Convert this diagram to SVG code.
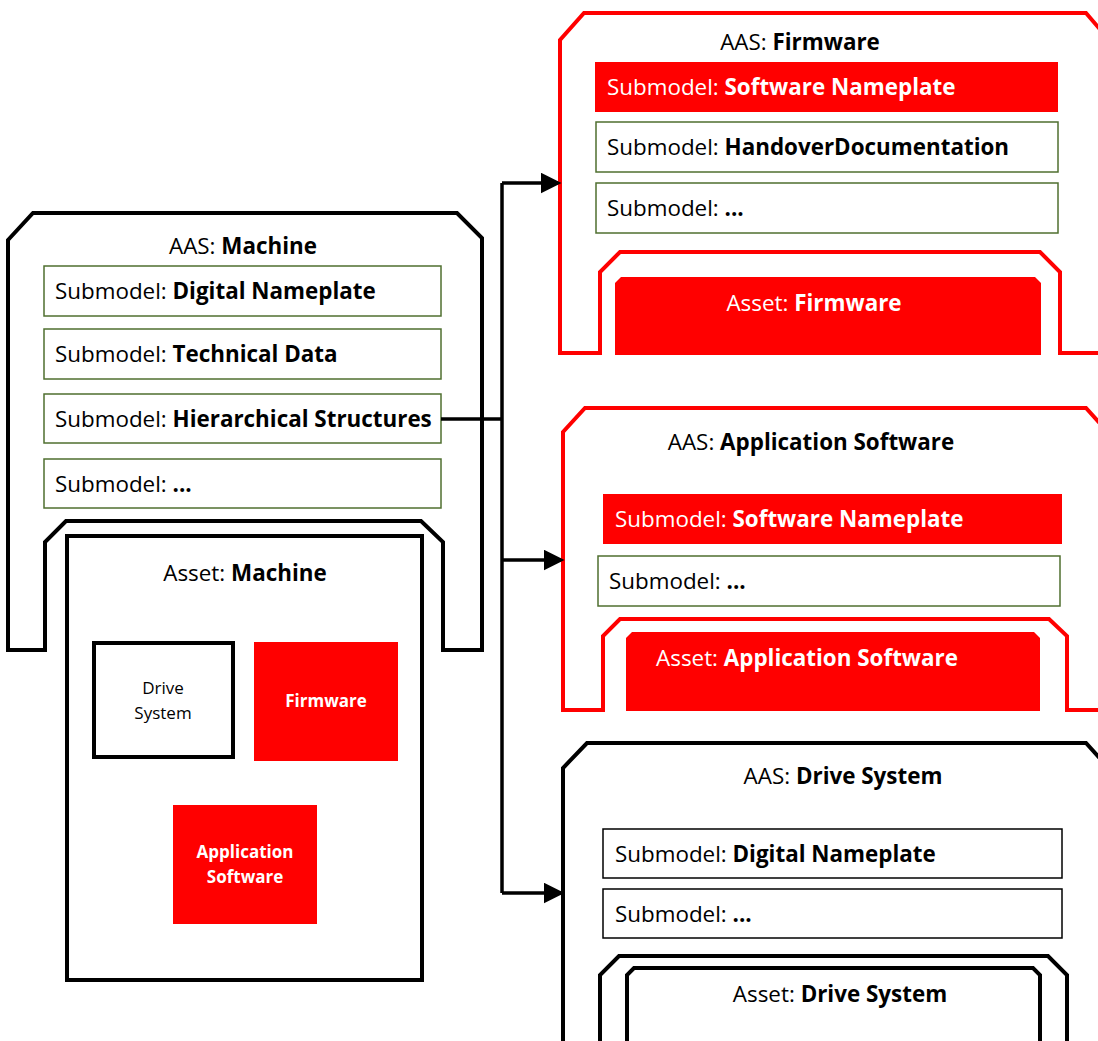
<svg xmlns="http://www.w3.org/2000/svg" width="1098" height="1041" viewBox="0 0 1098 1041">
<style>
  text { font-family: "Open Sans", "Noto Sans", "Liberation Sans", sans-serif; font-size: 22.4px; fill: #000; }
  .b { font-weight: bold; }
  .w { fill: #fff; }
  .c { text-anchor: middle; }
  .small { font-size: 17px; }
  .outline { fill: none; stroke: #000; stroke-width: 4; stroke-linejoin: miter; }
  .redline { fill: none; stroke: #ff0000; stroke-width: 4; }
  .sm { fill: #fff; stroke: #4f6f2f; stroke-width: 1.5; }
  .smk { fill: #fff; stroke: #000; stroke-width: 1.5; }
  .red { fill: #ff0000; }
  .conn { fill: none; stroke: #000; stroke-width: 3.5; }
</style>
<defs>
  <marker id="arr" markerWidth="6" markerHeight="6" refX="5" refY="3" orient="auto" markerUnits="strokeWidth">
    <path d="M0,0 L6,3 L0,6 Z" fill="#000"/>
  </marker>
</defs>
<rect width="1098" height="1041" fill="#fff"/>

<g id="aas-machine">
  <path class="outline" d="M8,240 L33,213 L457,213 L482,238 L482,650 L443,650 L443,542 L421,521 L66,521 L45,542 L45,650 L8,650 Z"/>
  <text class="c" x="243" y="254">AAS: <tspan class="b">Machine</tspan></text>
  <rect class="sm" x="44" y="266" width="397" height="50"/>
  <text x="55" y="299">Submodel: <tspan class="b">Digital Nameplate</tspan></text>
  <rect class="sm" x="44" y="329" width="397" height="50"/>
  <text x="55" y="362">Submodel: <tspan class="b">Technical Data</tspan></text>
  <rect class="sm" x="44" y="394" width="397" height="49"/>
  <text x="55" y="427">Submodel: <tspan class="b">Hierarchical Structures</tspan></text>
  <rect class="sm" x="44" y="459" width="397" height="49"/>
  <text x="55" y="492">Submodel: <tspan class="b">...</tspan></text>
</g>

<g id="asset-machine">
  <rect class="outline" x="67" y="536" width="355" height="444" fill="#fff"/>
  <text class="c" x="245" y="581">Asset: <tspan class="b">Machine</tspan></text>
  <rect x="94" y="643" width="139" height="114" fill="#fff" stroke="#000" stroke-width="4"/>
  <text class="c small" x="163" y="694">Drive</text>
  <text class="c small" x="163" y="719">System</text>
  <rect class="red" x="254" y="642" width="144" height="119"/>
  <text class="c small b w" x="326" y="707">Firmware</text>
  <rect class="red" x="173" y="805" width="144" height="119"/>
  <text class="c small b w" x="245" y="858">Application</text>
  <text class="c small b w" x="245" y="883">Software</text>
</g>

<g id="aas-firmware">
  <path class="redline" d="M1110,353 L1060,353 L1060,272 L1040,252 L620,252 L600,272 L600,353 L560,353 L560,40 L584,13 L1086,13 L1104,34"/>
  <text class="c" x="800" y="50">AAS: <tspan class="b">Firmware</tspan></text>
  <rect class="red" x="595" y="62" width="463" height="50"/>
  <text class="w" x="607" y="95">Submodel: <tspan class="b">Software Nameplate</tspan></text>
  <rect class="sm" x="596" y="122" width="462" height="50"/>
  <text x="607" y="155">Submodel: <tspan class="b">HandoverDocumentation</tspan></text>
  <rect class="sm" x="596" y="183" width="462" height="50"/>
  <text x="607" y="216">Submodel: <tspan class="b">...</tspan></text>
  <path class="red" d="M615,355 L615,283 L621,277 L1035,277 L1041,283 L1041,355 Z"/>
  <text class="c w" x="814" y="311">Asset: <tspan class="b">Firmware</tspan></text>
</g>

<g id="aas-application">
  <path class="redline" d="M1110,710 L1067,710 L1067,636 L1049,619 L620,619 L603,636 L603,710 L563,710 L563,432 L585,408 L1086,408 L1104,428"/>
  <text class="c" x="811" y="450">AAS: <tspan class="b">Application Software</tspan></text>
  <rect class="red" x="603" y="494" width="459" height="50"/>
  <text class="w" x="615" y="527">Submodel: <tspan class="b">Software Nameplate</tspan></text>
  <rect class="sm" x="598" y="556" width="462" height="50"/>
  <text x="609" y="589">Submodel: <tspan class="b">...</tspan></text>
  <path class="red" d="M626,711 L626,638 L632,632 L1034,632 L1040,638 L1040,711 Z"/>
  <text class="c w" x="807" y="666">Asset: <tspan class="b">Application Software</tspan></text>
</g>

<g id="aas-drive">
  <path class="outline" d="M563,1050 L563,768 L587,743 L1086,743 L1104,763"/>
  <text class="c" x="843" y="784">AAS: <tspan class="b">Drive System</tspan></text>
  <rect class="smk" x="603" y="829" width="459" height="49"/>
  <text x="615" y="862">Submodel: <tspan class="b">Digital Nameplate</tspan></text>
  <rect class="smk" x="603" y="889" width="459" height="49"/>
  <text x="615" y="922">Submodel: <tspan class="b">...</tspan></text>
  <path class="outline" d="M600,1050 L600,975 L619,956 L1048,956 L1067,975 L1067,1050"/>
  <path class="outline" d="M627,1050 L627,975 L634,968 L1033,968 L1040,975 L1040,1050"/>
  <text class="c" x="840" y="1002">Asset: <tspan class="b">Drive System</tspan></text>
</g>

<g id="connectors">
  <path class="conn" d="M441,419 L502,419"/>
  <path class="conn" d="M502,893 L502,183"/>
  <path class="conn" d="M502,183 L558,183" marker-end="url(#arr)"/>
  <path class="conn" d="M502,560 L561,560" marker-end="url(#arr)"/>
  <path class="conn" d="M502,893 L561,893" marker-end="url(#arr)"/>
</g>
</svg>
